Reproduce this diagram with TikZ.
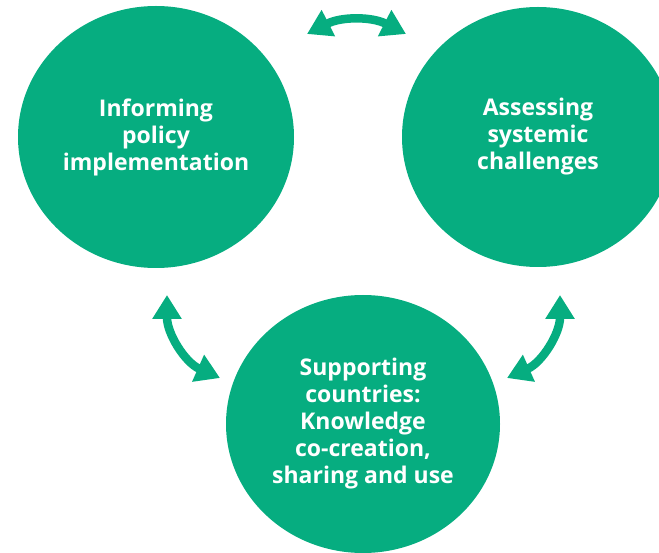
\documentclass[tikz,border=0pt]{standalone}
\usepackage{fontspec}
\setmainfont{Open Sans}
\usetikzlibrary{arrows.meta,shapes.geometric}
\definecolor{cgreen}{RGB}{6,173,128}
\tikzset{
  blob/.style={ellipse, fill=cgreen, draw=none, inner sep=0pt, text=white, align=center,
    font=\bfseries\fontsize{23}{27}\selectfont},
  link/.style={draw=cgreen, line width=8.5pt,
    {Triangle[length=24pt,width=28pt,fill=cgreen]}-{Triangle[length=24pt,width=28pt,fill=cgreen]}}
}
\begin{document}
\begin{tikzpicture}[x=1pt,y=1pt]
\useasboundingbox (0,0) rectangle (659,-553);
\clip (0,0) rectangle (659,-553);
\node[blob, minimum width=276pt, minimum height=262pt] (inf) at (156,-137) {Informing\\policy\\implementation};
\node[blob, minimum width=272pt, minimum height=260pt] (ass) at (538,-137) {Assessing\\systemic\\challenges};
\node[blob, minimum width=274pt, minimum height=258pt] (sup) at (363,-424) {Supporting\\countries:\\Knowledge\\co-creation,\\sharing and use};
\coordinate (tl) at (307,-34);
\coordinate (tr) at (406,-34);
\coordinate (lt) at (167,-295);
\coordinate (lb) at (220,-378);
\coordinate (rt) at (560,-295);
\coordinate (rb) at (507,-378);
\draw[link] (tl) to[out=27,in=153] (tr);
\draw[link] (lt) to[out=270,in=156] (lb);
\draw[link] (rt) to[out=270,in=24] (rb);
\end{tikzpicture}
\end{document}
